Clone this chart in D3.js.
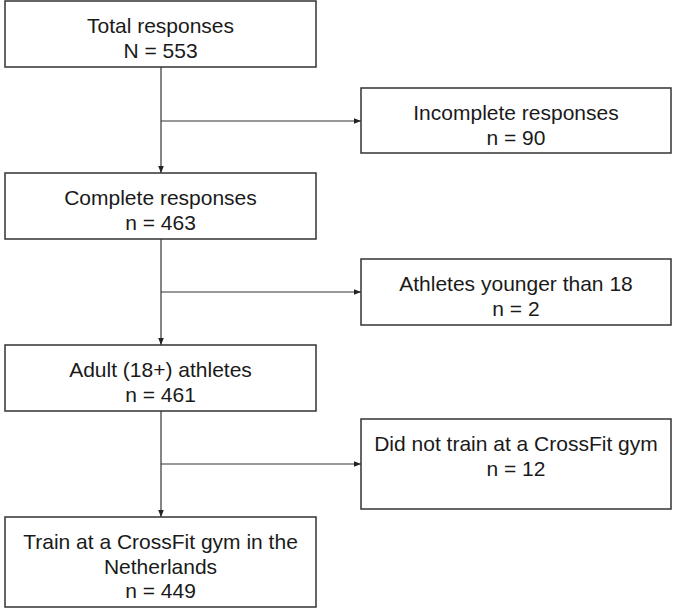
<!DOCTYPE html>
<html>
<head>
<meta charset="utf-8">
<script src="https://cdn.jsdelivr.net/npm/d3@7"></script>
<style>
  html, body { margin: 0; padding: 0; background: #fff; }
  svg { display: block; }
</style>
</head>
<body>
<svg id="chart" width="674" height="610"></svg>
<script>
// ---- data ----
const mainSteps = ["Total responses", "Complete responses", "Adult (18+) athletes", "Train at a CrossFit gym in the Netherlands"];
const mainPrefix = ["N", "n", "n", "n"];
const mainCounts = [553, 463, 461, 449];
const exclusionSteps = ["Incomplete responses", "Athletes younger than 18", "Did not train at a CrossFit gym"];
const exclusionCounts = [90, 2, 12];

// ---- layout ----
const svg = d3.select("#chart");
const fontSize = 21, lineH = 24.5, firstBase = 32;
const col = d3.scaleOrdinal().domain(["main", "excl"]).range([5, 361]);
const boxW = { main: 311, excl: 310 };
const mainTop = d3.scaleOrdinal().domain(d3.range(mainSteps.length)).range([1, 173, 345, 517]);
const mainH = [66, 66, 66, 90];
const exclTop = d3.scaleOrdinal().domain(d3.range(exclusionSteps.length)).range([88, 259, 419]);
const exclH = [65, 66, 90];
const branchY = d3.scaleOrdinal().domain(d3.range(exclusionSteps.length)).range([121, 292, 464]);
const stemX = 161;

const stroke = "#333";
const defs = svg.append("defs");
defs.append("marker")
  .attr("id", "arrow").attr("viewBox", "0 0 10 10")
  .attr("refX", 10).attr("refY", 5)
  .attr("markerWidth", 7).attr("markerHeight", 7)
  .attr("markerUnits", "userSpaceOnUse")
  .attr("orient", "auto")
  .append("path").attr("d", "M0,1 L10,5 L0,9 Z").attr("fill", "#222");

const measurer = svg.append("text").attr("font-family", "Liberation Sans, Arial, sans-serif")
  .attr("font-size", fontSize).attr("visibility", "hidden");
function wrap(str, maxW) {
  const words = str.split(" "), lines = [];
  let cur = "";
  words.forEach(w => {
    const test = cur ? cur + " " + w : w;
    measurer.text(test);
    if (measurer.node().getComputedTextLength() > maxW && cur) { lines.push(cur); cur = w; }
    else cur = test;
  });
  if (cur) lines.push(cur);
  return lines;
}

function drawBox(x, y, w, h, lines) {
  const g = svg.append("g");
  g.append("rect").attr("x", x).attr("y", y).attr("width", w).attr("height", h)
    .attr("fill", "#fff").attr("stroke", stroke).attr("stroke-width", 1.5);
  g.selectAll("text.lbl").data(lines).join("text")
    .attr("class", "lbl")
    .attr("x", x + w / 2)
    .attr("y", (d, i) => y + firstBase + i * lineH)
    .attr("text-anchor", "middle")
    .attr("font-family", "Liberation Sans, Arial, sans-serif")
    .attr("font-size", fontSize)
    .attr("fill", "#1a1a1a")
    .text(d => d);
}

// connectors
const lines = svg.append("g").attr("stroke", stroke).attr("stroke-width", 1.2).attr("fill", "none");
mainSteps.forEach((s, i) => {
  if (i === 0) return;
  lines.append("line")
    .attr("x1", stemX).attr("y1", mainTop(i - 1) + mainH[i - 1])
    .attr("x2", stemX).attr("y2", mainTop(i))
    .attr("marker-end", "url(#arrow)");
});
exclusionSteps.forEach((s, i) => {
  lines.append("line")
    .attr("x1", stemX).attr("y1", branchY(i))
    .attr("x2", col("excl")).attr("y2", branchY(i))
    .attr("marker-end", "url(#arrow)");
});

// boxes
mainSteps.forEach((s, i) => {
  const ls = wrap(s, boxW.main - 20).concat([`${mainPrefix[i]} = ${mainCounts[i]}`]);
  drawBox(col("main"), mainTop(i), boxW.main, mainH[i], ls);
});
exclusionSteps.forEach((s, i) => {
  const ls = wrap(s, boxW.excl - 10).concat([`n = ${exclusionCounts[i]}`]);
  drawBox(col("excl"), exclTop(i), boxW.excl, exclH[i], ls);
});
measurer.remove();
</script>
</body>
</html>
